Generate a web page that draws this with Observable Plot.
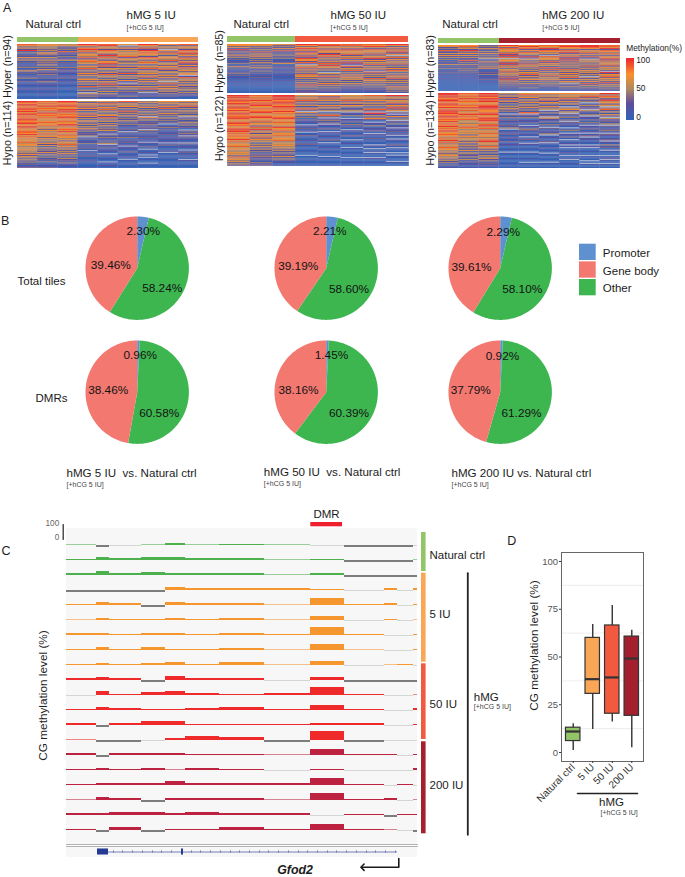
<!DOCTYPE html>
<html><head><meta charset="utf-8">
<script src="https://cdn.jsdelivr.net/npm/d3@7"></script>
<script src="https://cdn.jsdelivr.net/npm/@observablehq/plot@0.6"></script>
<style>
html,body{margin:0;padding:0;background:#fff;}
#page{position:relative;width:685px;height:877px;overflow:hidden;font-family:"Liberation Sans",Arial,sans-serif;}
#page svg{position:absolute;display:block;}
</style></head><body><div id="page"></div>
<script>
// ---------- Panel A: methylation bands (digit d = about d*11 %, "." = pale band), one string per sample
const a5Hyper=[
"8736291403172513021402613012401302010210100000","6745352743162534251426132411302412110210111000","5632418231412603120412312021301201100100000000",
"9737958376482785617483527361473625183052.62413","8957286739485276938265172846152738352416152310","6.372647568275346172635281635172.4263514221402",
"9748296875287358617482647358163725163814.21300","7264.7385167482563748256173625.48263735241301","8375286947285369172846357.2846351724361523100"];
const a5Hypo=[
"9879878979689787987896798678879687576857646574537264352413023","8687968785978687578678563746857364537261534262514131402113","9878976989687897686798578697586746375847362536241523141201",
"5274837261483725174261537241324.13021402130.120130012010001","6385274836157284361527143612.31420315.2130210.120100.10200","8364725183526142531412031.30214021302.1201301020.1001000",
"4625371426153.7251324132.4130213021.20130.1020.1.0100.1000","7462738152634152413.024130213021202.1301002.0100100010000","6374825163415.2413524130.3142.31201.30210.1302010.2001000"];
const a50Hyper=[
"7736192431725130214026130124130201021010000000","7634251826372514253142612413021302110201000000","6342718231513402136012302130120110200100000000",
"9737958287381967283.74837261857352416283514223","8957386729583627384957261.634826152735241321","8847396758264817392.8264815273746251634231201",
"8795286748175927364816372.82635184735261423120","9627385917.4827364815273851627482536142735241"];
const a50Hypo=[
"9897987986987978978897689786798968787696857685764756385746253","8786978897687896789768476385947265837461536252413342311423","9989789879887978678976867597684768576846574635243261431201",
"6474835261483.6251403120.21302.013010201301000100.00010010","7384625173625.1483.2413.20130.21020130.1002010010.0100001","6574836274135.2140.21304120.2101300.10200.1000100.000100","8564726351483.9251730.21402130.21030100.20.01.100.200100","9473658274936.3.2714.31402.21302.10.200130.100.0.1000.100"];
const a200Hyper=[
"7624183261725140312603140213020102001000000000","7846294371625138241523142413120211010100000000","3426315271425.1362415362013240211302100000000",
"9738576482938.576392847165837462819372524131200","7968273865293.7162847352617482634725162314020","8759287463.85763827461838261748364725161421100",
"8976385917482938172635184627364816274.3251302","9987265837182.6472538261746253.52637182614211","8869287485276938475827463.9275837462826351420"];
const a200Hypo=[
"9989789879879689897897879687968796787586958475867463574635241302","8786978768796857968785647586475637465362534261532415131201","9897989678998778967989758968475867468957486352415362413120",
"5362817241536241.31403120314.02130120130210010.100010000100","6847253715362418.31402130.21430120.1301.200100.1000100.0100","7463581742635.2413.6213041.30214.02103.1002010.010000.1000","7564826351.4725.31403.3120.140.2130.102.1.01020.01.001000","7583624.1523.5214.213041.21302.13.12010.2.00100.100.0.100","9486295736.4825163.52314.30241.32013.204130.100.02.10.100"];
const legendStops=[0,25,50,75,100];
const legendColors=["#3561b5","#5f4c9c","#af8860","#f9902c","#ee2e2e"];

// ---------- Panel B: slices as drawn, and the printed percentages
const regions=["Promoter","Gene body","Other"];
const regionColors=["#5f90d0","#f27870","#3db650"];
const sliceOrder=["Promoter","Other","Gene body"];
const totalSlices=[[3.6,55.3,41.1],[3.6,55.9,40.5],[3.6,55.1,41.3]];
const dmrSlices=[[0.8,52.0,47.2],[0.8,59.5,39.7],[0.8,53.6,45.6]];
const totalLabels=[["2.30%","58.24%","39.46%"],["2.21%","58.60%","39.19%"],["2.29%","58.10%","39.61%"]];
const dmrLabels=[["0.96%","60.58%","38.46%"],["1.45%","60.39%","38.16%"],["0.92%","61.29%","37.79%"]];

// ---------- Panel C: browser tracks, one value per genome bin (-1 = no call, grey; 0 = faint)
const binEdges=[0,30,43.3,75,98.7,119,153.3,198,244.3,278,317.7,331,346.7,351];
const trackNatural=[
[5,-1,0,5,10,5,6,5,0,-1,-1,-1,0],
[6,18,10,18,18,10,12,4,6,-1,-1,-1,5],
[10,22,10,18,10,10,12,5,10,-1,-1,-1,-1]];
const track5=[
[-1,-1,-1,-1,18,12,12,12,8,0,10,0,10],
[6,20,10,-1,20,10,10,5,45,6,12,0,6],
[4,14,6,6,12,8,14,4,24,0,8,0,4],
[10,14,6,10,10,8,12,6,50,8,0,0,6],
[6,18,8,20,6,6,10,5,35,4,0,0,8],
[6,14,6,14,20,6,16,4,24,0,4,6,0]];
const track50=[
[10,18,10,-1,26,10,10,0,18,-1,-1,-1,-1],
[0,25,6,18,22,14,8,10,50,6,0,0,5],
[8,18,10,6,6,10,16,6,30,8,0,0,10],
[10,-1,10,22,22,8,8,8,10,10,0,0,8],
[5,-1,-1,0,10,22,18,-1,60,-1,0,0,0]];
const track200=[
[10,-1,10,10,10,8,8,4,38,8,8,0,6],
[6,10,6,12,5,14,8,0,6,0,0,0,10],
[6,14,14,14,22,10,10,10,45,8,0,8,0],
[5,20,10,-1,10,10,10,5,48,8,14,0,5],
[10,10,20,20,14,20,14,12,0,6,-1,6,6],
[8,-1,20,-1,8,8,16,8,35,6,4,0,-1]];
const trackGroups=["Natural ctrl","5 IU","50 IU","200 IU"];
const trackColors=["#4cb04c","#f6962e","#ee2a2a","#bd2340"];
const sideColors=["#93c468","#f9a656","#f15a3f","#a5202e"];
const geneExons=[[31,42],[115,117]];
const geneTicks=[47,56,66,76,86,95,105,125,134,144,154,164,173,183,193,202,212,222,232,241,251,261,270,280,290,300,309,319,329];

// ---------- Panel D: box summaries
const boxGroups=["Natural ctrl","5 IU","50 IU","200 IU"];
const boxLow=[1,12,16,2.5];
const boxQ1=[6,30.7,20.3,19.2];
const boxMedian=[11,38.4,39.3,49.2];
const boxQ3=[13,60,66.5,60.7];
const boxHigh=[15,67,77,64];
const minorGrid=[12.5,37.5,62.5,87.5];
const yTicks=[0,25,50,75,100];

// ---------- helpers
const page=document.getElementById("page");
const FONT='"Liberation Sans",Arial,sans-serif';
const baseStyle={background:"transparent",fontFamily:FONT,overflow:"visible",maxWidth:"none"};
function put(el,left,top){el.style.left=left+"px";el.style.top=top+"px";page.appendChild(el);return el;}
const heatColor={type:"linear",domain:legendStops,range:legendColors};

function heatBlock(cols,left,top,right,bottom){
  const data=cols.flatMap((s,c)=>Array.from(s,(ch,r)=>({col:c,r,len:s.length,v:ch==="."?null:+ch*11})));
  const h=bottom-top;
  const el=put(Plot.plot({width:right-left,height:h,margin:0,style:{...baseStyle,overflow:"hidden"},
    x:{domain:[0,cols.length],axis:null},y:{domain:[0,1],range:[0,h],axis:null},color:heatColor,
    marks:[
      Plot.frame({fill:"#a9b5d2",stroke:null}),
      Plot.rect(data,{x1:"col",x2:d=>d.col+1,y1:d=>d.r/d.len,y2:d=>(d.r+1)/d.len,fill:"v"})
    ]}),left,top);
  el.style.filter="blur(0.45px)";
}
function annotBar(groups,left,top,right,bottom){
  put(Plot.plot({width:right-left,height:bottom-top,margin:0,style:baseStyle,
    x:{domain:[0,d3.sum(groups,d=>d.n)],axis:null},y:{domain:[0,1],axis:null},
    marks:[Plot.rect(groups,{x1:"from",x2:d=>d.from+d.n,y1:0,y2:1,fill:"color",shapeRendering:"crispEdges"})]}),left,top);
}
function pie(shares,cx,cy,r){
  const size=2*r+4, scale=(size/2)/r;
  let acc=0;
  const marks=shares.map((s,i)=>{
    const a0=acc/100*2*Math.PI; acc+=s; const a1=acc/100*2*Math.PI;
    const n=Math.max(2,Math.ceil((a1-a0)/0.03));
    const pts=[{x:0,y:0}];
    for(let k=0;k<=n;k++){const a=a0+(a1-a0)*k/n;pts.push({x:Math.sin(a),y:Math.cos(a)});}
    pts.push({x:0,y:0});
    return Plot.line(pts,{x:"x",y:"y",fill:regionColors[regions.indexOf(sliceOrder[i])],stroke:null});
  });
  put(Plot.plot({width:size,height:size,margin:0,style:baseStyle,
    x:{domain:[-scale,scale],axis:null},y:{domain:[-scale,scale],axis:null},marks}),cx-size/2,cy-size/2);
}

// ---------- underlay (page coordinates)
const px={domain:[0,685],range:[0,685],axis:null};
const py={domain:[0,877],range:[0,877],axis:null};
const bands=(rows)=>Plot.rect(rows,{x1:"x1",x2:"x2",y1:"y1",y2:"y2",fill:"fill"});
put(Plot.plot({width:685,height:877,margin:0,style:baseStyle,x:px,y:py,marks:[
  bands([{x1:66,x2:417,y1:528,y2:844,fill:"#f6f7f6"},{x1:66,x2:417,y1:846,y2:857,fill:"#f6f7f6"}]),
]}),0,0);

// ---------- Panel A
annotBar([{from:0,n:3,color:sideColors[0]},{from:3,n:6,color:sideColors[1]}],16.7,37.3,198,42.3);
heatBlock(a5Hyper,16.7,44,198,99.3);
heatBlock(a5Hypo,16.7,101,198,168.3);
annotBar([{from:0,n:3,color:sideColors[0]},{from:3,n:5,color:sideColors[2]}],227,36.3,408.7,42);
heatBlock(a50Hyper,227,43.7,408.7,92.7);
heatBlock(a50Hypo,227,95.3,408.7,166);
annotBar([{from:0,n:3,color:sideColors[0]},{from:3,n:6,color:sideColors[3]}],438.3,38,620,43.3);
heatBlock(a200Hyper,438.3,44.7,620,91.3);
heatBlock(a200Hypo,438.3,93.3,620,168.3);
// colour bar
const legendValues=d3.range(-2,103);
put(Plot.plot({width:8,height:61.6,margin:0,style:baseStyle,
  x:{domain:[0,1],axis:null},y:{domain:[-2,103],axis:null},color:heatColor,
  marks:[Plot.rect(legendValues,{x1:0,x2:1,y1:d=>d,y2:d=>d+1,fill:d=>Math.max(0,Math.min(100,d)),shapeRendering:"crispEdges"})]}),625.7,57.7);

// ---------- Panel B pies
const pieX=[136.7,325.7,499.3];
totalSlices.forEach((s,i)=>pie(s,pieX[i],267.7,51.7));
dmrSlices.forEach((s,i)=>pie(s,pieX[i],391.7,51.7));

// ---------- Panel C tracks
const allTracks=[trackNatural,track5,track50,track200];
let tid=0;
const trackRows=[];
allTracks.forEach((grp,g)=>grp.forEach(vals=>{
  const t=tid++;
  vals.forEach((v,b)=>trackRows.push({track:t,group:trackGroups[g],x1:binEdges[b],x2:binEdges[b+1],v}));
}));
put(Plot.plot({width:351,height:307.4,margin:0,style:baseStyle,
  x:{domain:[0,351],axis:null},y:{domain:[-15,85],axis:null},
  fy:{domain:d3.range(20),axis:null,padding:0},
  color:{domain:trackGroups,range:trackColors},
  marks:[
    Plot.rect(trackRows.filter(d=>d.v>0),{x1:"x1",x2:"x2",y1:0,y2:"v",fy:"track",fill:"group",fillOpacity:d=>d.v<=5?0.55:1,shapeRendering:"crispEdges"}),
    Plot.rect(trackRows.filter(d=>d.v===0),{x1:"x1",x2:"x2",y1:-6.5,y2:0,fy:"track",fill:"#d4d6d4",shapeRendering:"crispEdges"}),
    Plot.rect(trackRows.filter(d=>d.v<0),{x1:"x1",x2:"x2",y1:-13,y2:-3,fy:"track",fill:"#7d7d7d",shapeRendering:"crispEdges"})
  ]}),66,527.6);
// gene model
put(Plot.plot({width:351,height:11,margin:0,style:baseStyle,
  x:{domain:[0,351],axis:null},y:{domain:[-1,1],axis:null},
  marks:[
    Plot.ruleY([0],{x1:31,x2:331,stroke:"#5560a8",strokeWidth:0.8}),
    Plot.ruleX(geneTicks,{x:d=>d,y1:-0.2,y2:0.2,stroke:"#5560a8",strokeWidth:0.7}),
    Plot.rect(geneExons,{x1:d=>d[0],x2:d=>d[1],y1:-0.55,y2:0.55,fill:"#253a92"})
  ]}),66,846);

// ---------- Panel D
const boxData=boxGroups.map((g,i)=>({i:i+1,g,low:boxLow[i],q1:boxQ1[i],med:boxMedian[i],q3:boxQ3[i],high:boxHigh[i],color:sideColors[i]}));
put(Plot.plot({width:114,height:262,marginLeft:31,marginRight:1,marginTop:0,marginBottom:53,style:{...baseStyle,fontSize:"10px"},
  x:{domain:[0.4,4.6],axis:null},y:{domain:[-4.7,104.7],axis:null},
  marks:[
    Plot.ruleY(minorGrid,{stroke:"#e8e8e8",strokeWidth:0.8}),
    Plot.ruleX(boxData,{x:"i",y1:"low",y2:"high",stroke:"#333",strokeWidth:1.4}),
    Plot.rect(boxData,{x1:d=>d.i-0.37,x2:d=>d.i+0.37,y1:"q1",y2:"q3",fill:"color",stroke:"#333",strokeWidth:1.2}),
    Plot.ruleY(boxData,{x1:d=>d.i-0.37,x2:d=>d.i+0.37,y:"med",stroke:"#333",strokeWidth:2.2}),
    Plot.frame({stroke:"#666",strokeWidth:1}),
    Plot.axisY({ticks:yTicks,tickSize:2,tickPadding:1.5,label:null,fontSize:9.5,fill:"#555",stroke:"#333"}),
    Plot.axisX({ticks:[1,2,3,4],tickFormat:i=>boxGroups[i-1],tickRotate:-45,tickSize:2,tickPadding:2,label:null,fontSize:10.2,fill:"#333",stroke:"#333"})
  ]}),530,552);

// ---------- overlay text and rules (page coordinates)
const lab=(t,x,y,o={})=>Plot.text([t],{x:()=>x,y:()=>y,text:d=>d,textAnchor:"start",fontSize:11.5,fill:"#1c1c1c",stroke:null,...o});
const sub=(x,y)=>lab("[+hCG 5 IU]",x,y,{fontSize:7,fill:"#444"});
const vert=(t,x,y,fs=10.7)=>lab(t,x,y,{rotate:-90,textAnchor:"middle",fontSize:fs});
const mid=(t,x,y,o={})=>lab(t,x,y,{textAnchor:"middle",fontSize:11.8,fill:"#141414",...o});
const line=(pts,o={})=>Plot.line(pts,{x:"0",y:"1",stroke:"#222",strokeWidth:1.8,...o});
const rowsLabels=[[totalLabels,[[142.7,230.3],[161.7,287.7],[110.3,265]],[[329.3,231],[348.5,288.3],[297.7,265.7]],[[502.7,231.7],[521.7,289],[471,266.3]]],
                  [dmrLabels,[[139.7,355],[158.7,412.3],[107.7,389.3]],[[331,355],[348.5,412.3],[298,389.3]],[[502,355.3],[521,412.3],[470.3,389.3]]]];
const pieText=rowsLabels.flatMap(([labels,...cols])=>cols.flatMap((col,c)=>col.map((p,k)=>mid(labels[c][k],p[0],p[1]))));
put(Plot.plot({width:685,height:877,margin:0,style:baseStyle,x:px,y:py,marks:[
  // panel letters
  lab("A",2.5,7.5,{fontSize:12.5}),lab("B",0.5,220,{fontSize:12.5}),lab("C",1,550,{fontSize:12.5}),lab("D",506.7,540,{fontSize:12.5}),
  // A
  lab("Natural ctrl",25,24),lab("hMG 5 IU",126,15.3),sub(126,27),
  lab("Natural ctrl",233,24),lab("hMG 50 IU",330,15.3),sub(330,27),
  lab("Natural ctrl",441.7,24),lab("hMG 200 IU",541.7,15.3),sub(541.7,27),
  vert("Hyper (n=94)",7,66),vert("Hypo (n=114)",7,132.5),
  vert("Hyper (n=85)",219.5,61),vert("Hypo (n=122)",219.5,128),
  vert("Hyper (n=83)",430,66),vert("Hypo (n=134)",430,132.5),
  lab("Methylation(%)",625.7,48,{fontSize:8.4}),
  lab("100",635.7,60,{fontSize:8.4}),lab("50",635.7,88,{fontSize:8.4}),lab("0",635.7,117,{fontSize:8.4}),
  // B
  ...pieText,
  lab("Total tiles",17,280.7),lab("DMRs",67,398.3,{textAnchor:"end"}),
  bands(regions.map((r,i)=>({x1:579,x2:595.7,y1:243.7+i*17.65,y2:260+i*17.65,fill:regionColors[i]}))),
  ...regions.map((r,i)=>lab(r,602.3,252.7+i*17.65)),
  lab("hMG 5 IU  vs. Natural ctrl",66,472.7,{fontSize:11.6}),sub(66,484),
  lab("hMG 50 IU  vs. Natural ctrl",263.3,471.7,{fontSize:11.6}),sub(263.3,483),
  lab("hMG 200 IU vs. Natural ctrl",451,472.7,{fontSize:11.6}),sub(451,484),
  // C
  lab("DMR",326,513.5,{textAnchor:"middle"}),
  bands([{x1:310.3,x2:342,y1:522,y2:526.3,fill:"#ee2030"}]),
  lab("100",58.7,523.3,{fontSize:8.2,fill:"#666",textAnchor:"end"}),lab("0",58.7,537.3,{fontSize:8.2,fill:"#666",textAnchor:"end"}),
  line([[62.7,524],[62.7,539]],{strokeWidth:1.2}),
  vert("CG methylation level (%)",43,695,11.8),
  line([[66,844],[417,844]],{stroke:"#b0b0b0",strokeWidth:1}),line([[66,846],[417,846]],{stroke:"#b0b0b0",strokeWidth:1}),
  bands([{x1:421,x2:425.6,y1:532,y2:571,fill:sideColors[0]},{x1:421,x2:425.6,y1:572.7,y2:661.7,fill:sideColors[1]},
         {x1:421,x2:425.6,y1:663.3,y2:739,fill:sideColors[2]},{x1:421,x2:425.6,y1:741.3,y2:833.3,fill:sideColors[3]}]),
  lab("Natural ctrl",429,555),lab("5 IU",429,614.3),lab("50 IU",429,704),lab("200 IU",429,785),
  line([[467.3,572.7],[467.3,834.3]]),
  lab("hMG",473.3,697.3),sub(473.3,706.7),
  lab("Gfod2",276.7,870,{fontSize:12.4,fontWeight:"bold",fontStyle:"italic"}),
  Plot.line([[398.3,858],[398.3,866.7],[362,866.7]],{x:"0",y:"1",stroke:"#1a1a1a",strokeWidth:1.6,markerEnd:"arrow"}),
  // D
  vert("CG methylation level (%)",534,645,11.8),
  line([[577,793],[637,793]],{strokeWidth:1.6}),
  lab("hMG",611,802,{textAnchor:"middle"}),sub(600,812)
]}),0,0);
</script></body></html>
